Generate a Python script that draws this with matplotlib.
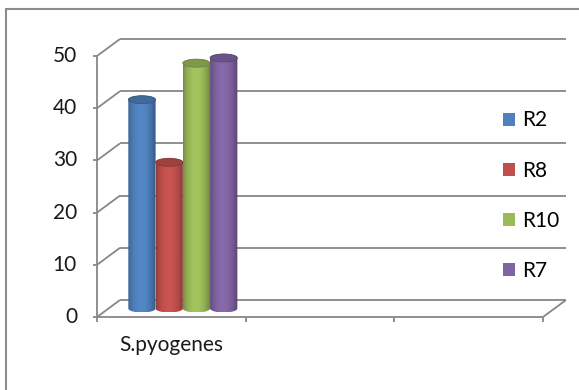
import numpy as np
import matplotlib.pyplot as plt
from matplotlib.colors import to_rgb
from matplotlib.patches import Polygon, Ellipse, Patch, Rectangle

categories = ['S.pyogenes', '', '']
series = ['R2', 'R8', 'R10', 'R7']
values = [40, 28, 47, 48]
colors = ['#4F81BD', '#C0504D', '#9BBB59', '#8064A2']
yticks = [0, 10, 20, 30, 40, 50]

plt.rcParams['font.family'] = ['Lato', 'DejaVu Sans']
fs = 15

W, H = 579, 390
fig = plt.figure(figsize=(W / 100, H / 100), dpi=100)

# front plane of the 3d box, in pixels
x0_px, x1_px, y0_px, y1_px = 97, 543, 317, 56
ax = fig.add_axes([x0_px / W, 1 - y0_px / H, (x1_px - x0_px) / W, (y0_px - y1_px) / H])
ncat = len(categories)
ymax = yticks[-1]
px_x = ncat / (x1_px - x0_px)
px_y = ymax / (y0_px - y1_px)
dx, dy = 23 * px_x, 17 * px_y   # depth offset of the back wall
grid = '#878787'
lw = 1.3

def seg(xs, ys):
    ax.plot(xs, ys, color=grid, lw=lw, clip_on=False, solid_capstyle='butt', zorder=1)

# walls, gridlines and axes
for v in yticks:
    seg([dx, ncat + dx], [v + dy, v + dy])
    seg([0, dx], [v, v + dy])
    seg([-4 * px_x, 0], [v, v])
    ax.text(-20 * px_x, v, str(v), ha='right', va='center', fontsize=fs, color='#1a1a1a')
seg([0, 0], [0, ymax])
seg([0, ncat], [0, 0])
seg([ncat, ncat + dx], [0, dy])
for c in range(ncat + 1):
    seg([c, c], [0, -5 * px_y])
for i, name in enumerate(categories):
    ax.text(i + 0.5, -28 * px_y, name, ha='center', va='center', fontsize=fs, color='#1a1a1a')

# cylinders
bw = 27.25 * px_x
start = 0.5 - bw * len(series) / 2 + dx / 2
ry = 4 * px_y
t = np.linspace(0, 1, 64)
shade = 0.74 + 0.36 * np.sin(np.pi * t) ** 0.7 - 0.1 * t
for i, (v, c) in enumerate(zip(values, colors)):
    left = start + i * bw
    cx = left + bw / 2
    base = dy / 2
    top = v + dy / 2
    th = np.linspace(np.pi, 2 * np.pi, 40)
    bottom_arc = np.column_stack([cx + bw / 2 * np.cos(th), base + ry * np.sin(th)])
    th2 = np.linspace(0, np.pi, 40)
    top_arc = np.column_stack([cx + bw / 2 * np.cos(th2), top + ry * np.sin(th2)])
    body = Polygon(np.vstack([bottom_arc, top_arc]), closed=True, fc='none', ec='none')
    ax.add_patch(body)
    base_rgb = np.array(to_rgb(c))
    rgb = np.clip(base_rgb[None, :] * shade[:, None], 0, 1)[None, :, :]
    im = ax.imshow(rgb, extent=[left, left + bw, base - ry, top + ry], aspect='auto',
                   interpolation='bilinear', zorder=3 + i * 0.1)
    im.set_clip_path(body)
    im.set_clip_box(None)
    ax.add_patch(Ellipse((cx, top), bw, 2 * ry, fc=base_rgb * 0.82, ec=base_rgb * 0.7,
                         lw=0.6, zorder=3.05 + i * 0.1, clip_on=False))

ax.set_xlim(0, ncat)
ax.set_ylim(0, ymax)
ax.axis('off')

handles = [Patch(facecolor=c, edgecolor='none') for c in colors]
fig.legend(handles, series, loc='upper left', bbox_to_anchor=(503 / W, 1 - 110.5 / H),
           frameon=False, fontsize=fs, borderpad=0, borderaxespad=0,
           handlelength=0.58, handleheight=0.58, handletextpad=0.35, labelspacing=1.45)

# chart border
fig.add_artist(Rectangle((6 / W, -0.1), 1.2, 1 - 9 / H + 0.1, transform=fig.transFigure,
                         fill=False, ec='#8c8c8c', lw=1.5))

fig.savefig('out.png', dpi=100)
